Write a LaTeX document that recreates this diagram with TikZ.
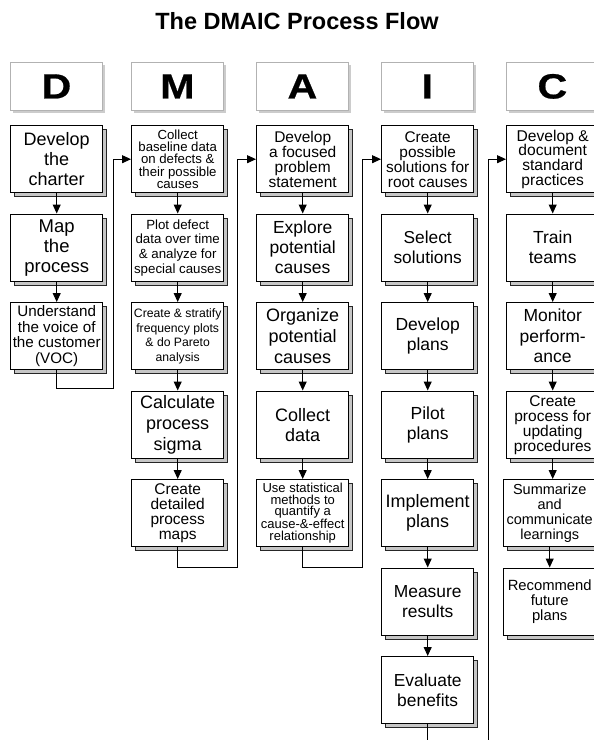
\documentclass[tikz,border=0pt]{standalone}
\usepackage{fontspec}
\setmainfont{Liberation Sans}
\newfontfamily\hdrfont[FakeStretch=1.18,FakeBold=0.6]{Liberation Sans}
\usetikzlibrary{arrows.meta,shadows}

\tikzset{
  txt/.style 2 args={font=\fontsize{#1}{#2}\selectfont},
  stepbox/.style={draw=black, line width=1.4pt, fill=white,
    minimum width=92pt, minimum height=67pt, inner sep=0pt,
    align=center, anchor=north west,
    drop shadow={shadow xshift=4pt, shadow yshift=-4pt, opacity=1,
      fill=gray!45, draw=black!85, line width=0.6pt}},
  hdrbox/.style={draw=gray!60, line width=0.8pt, fill=white,
    minimum width=92pt, minimum height=48pt, inner sep=0pt,
    anchor=north west, font=\hdrfont\bfseries\fontsize{35}{40}\selectfont,
    drop shadow={shadow xshift=3pt, shadow yshift=-3pt, opacity=1,
      fill=gray!40}},
  link/.style={line width=1pt, -{Triangle[length=9pt,width=8pt]}},
}

\begin{document}
\begin{tikzpicture}[x=1pt, y=-1pt]
  \clip (0,0) rectangle (594,740);
  \fill[white] (0,0) rectangle (594,740);

  % title
  \node[font=\bfseries\fontsize{23.5}{28}\selectfont] (title) at (297,21.5)
    {The DMAIC Process Flow};

  % phase headers
  \node[hdrbox] (HD) at (10,62)  {D};
  \node[hdrbox] (HM) at (131,62) {M};
  \node[hdrbox] (HA) at (256,62) {A};
  \node[hdrbox] (HI) at (381,62) {I};
  \node[hdrbox] (HC) at (506,62) {C};

  % Define
  \node[stepbox, txt={18}{20}]     (D1) at (10,125)   {Develop\\the\\charter};
  \node[stepbox, txt={18.5}{20}]   (D2) at (10,213.5) {Map\\the\\process};
  \node[stepbox, txt={15.2}{15.5}] (D3) at (10,302)   {Understand\\the voice of\\the customer\\(VOC)};

  % Measure
  \node[stepbox, txt={13.2}{12.3}] (M1) at (131,125)   {Collect\\baseline data\\on defects \&\\their possible\\causes};
  \node[stepbox, txt={13.3}{14.7}] (M2) at (131,213.5) {Plot defect\\data over time\\\& analyze for\\special causes};
  \node[stepbox, txt={12.2}{14.5}] (M3) at (131,302)   {Create \& stratify\\frequency plots\\\& do Pareto\\analysis};
  \node[stepbox, txt={18}{20.7}]   (M4) at (131,390.5) {Calculate\\process\\sigma};
  \node[stepbox, txt={15.5}{15}]   (M5) at (131,479)   {Create\\detailed\\process\\maps};

  % Analyze
  \node[stepbox, txt={15.5}{15}]   (A1) at (256,125)   {Develop\\a focused\\problem\\statement};
  \node[stepbox, txt={17.5}{20}]   (A2) at (256,213.5) {Explore\\potential\\causes};
  \node[stepbox, txt={18}{21}]     (A3) at (256,302)   {Organize\\potential\\causes};
  \node[stepbox, txt={18}{20}]     (A4) at (256,390.5) {Collect\\data};
  \node[stepbox, txt={13}{11.7}]   (A5) at (256,479)   {Use statistical\\methods to\\quantify a\\cause-\&-effect\\relationship};

  % Improve
  \node[stepbox, txt={15.4}{15}]   (I1) at (381,125)   {Create\\possible\\solutions for\\root causes};
  \node[stepbox, txt={17.3}{20}]   (I2) at (381,213.5) {Select\\solutions};
  \node[stepbox, txt={17.5}{20}]   (I3) at (381,302)   {Develop\\plans};
  \node[stepbox, txt={17.5}{20}]   (I4) at (381,390.5) {Pilot\\plans};
  \node[stepbox, txt={18}{20}]     (I5) at (381,479)   {Implement\\plans};
  \node[stepbox, txt={17.4}{20}]   (I6) at (381,567.5) {Measure\\results};
  \node[stepbox, txt={17.4}{20}]   (I7) at (381,656)   {Evaluate\\benefits};

  % Control
  \node[stepbox, txt={15.6}{14.8}] (C1) at (506,125)   {Develop \&\\document\\standard\\practices};
  \node[stepbox, txt={17.5}{20}]   (C2) at (506,213.5) {Train\\teams};
  \node[stepbox, txt={17.5}{20.5}] (C3) at (506,302)   {Monitor\\perform-\\ance};
  \node[stepbox, txt={15.5}{15}]   (C4) at (506,390.5) {Create\\process for\\updating\\procedures};
  \node[stepbox, txt={14.5}{15}]   (C5) at (503,479)   {Summarize\\and\\communicate\\learnings};
  \node[stepbox, txt={14.8}{15}]   (C6) at (503,567.5) {Recommend\\future\\plans};

  % steps within each phase (kept vertical)
  \foreach \a/\b in {D1/D2, D2/D3,
                     M1/M2, M2/M3, M3/M4, M4/M5,
                     A1/A2, A2/A3, A3/A4, A4/A5,
                     I1/I2, I2/I3, I3/I4, I4/I5, I5/I6, I6/I7,
                     C1/C2, C2/C3, C3/C4, C4/C5, C5/C6}
    \draw[link] (\a.south) -- (\a.south |- \b.north);

  % hand-offs between phases
  \coordinate (jDM) at (113,388);
  \coordinate (jMA) at (237,567);
  \coordinate (jAI) at (362,567);
  \coordinate (jIC) at (488,770);
  \draw[link] (D3.south) |- (jDM) |- (M1.west);
  \draw[link] (M5.south) |- (jMA) |- (A1.west);
  \draw[link] (A5.south) |- (jAI) |- (I1.west);
  \draw[link] (I7.south) |- (jIC) |- (C1.west);
\end{tikzpicture}
\end{document}
